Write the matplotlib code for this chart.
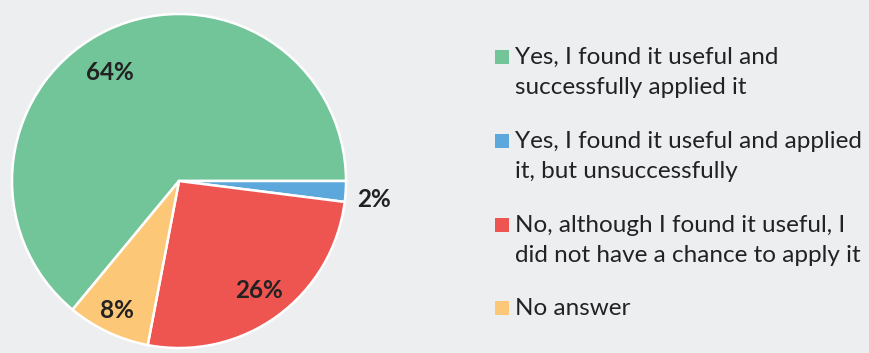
import numpy as np
import matplotlib.pyplot as plt
from matplotlib.patches import Rectangle

plt.rcParams['font.family'] = ['Lato', 'DejaVu Sans']

# data
labels = ['Yes, I found it useful and\nsuccessfully applied it',
          'Yes, I found it useful and applied\nit, but unsuccessfully',
          'No, although I found it useful, I\ndid not have a chance to apply it',
          'No answer']
shares = [64, 2, 26, 8]
colors = ['#72C499', '#5CA8DC', '#EE5450', '#FCC877']

W, H = 869, 353
BG = '#EDEEF0'
TXT = '#222222'

fig = plt.figure(figsize=(W / 100, H / 100), dpi=100, facecolor=BG)
ax = fig.add_axes([0, 0, 1, 1])
ax.set_facecolor(BG)

# pie drawn in pixel coords (y up)
cx, cy, r = 179, H - 181, 167
start = 360 * shares[0] / sum(shares)
wedges, _ = ax.pie(shares, colors=colors, startangle=start, counterclock=False,
                   radius=r, center=(cx, cy), explode=[0.004, 0.035, 0.03, 0.015],
                   wedgeprops=dict(edgecolor='white', linewidth=1.8), frame=True)
ax.set_xlim(0, W)
ax.set_ylim(0, H)
ax.set_aspect('equal')
ax.axis('off')

# percentage labels: (radial distance, angle shift from wedge middle)
label_pos = [(0.77, 7.4), (1.17, -1.7), (0.81, 0), (0.86, -0.6)]
for w, s, (d, shift) in zip(wedges, shares, label_pos):
    a = np.deg2rad((w.theta1 + w.theta2) / 2 + shift)
    ax.text(cx + r * d * np.cos(a), cy + r * d * np.sin(a), f'{s}%',
            ha='center', va='center', fontsize=17.5, fontweight='bold', color=TXT)

# legend, one baseline per entry
baselines = [64, 148, 232, 315]
line_gap = 30
for lab, col, y in zip(labels, colors, baselines):
    ax.add_patch(Rectangle((495, H - y), 14, 14, color=col, lw=0))
    for i, line in enumerate(lab.split('\n')):
        ax.text(515, H - y - i * line_gap, line, ha='left', va='baseline',
                fontsize=17.5, color=TXT)

fig.savefig('out.png', dpi=100, facecolor=BG)
